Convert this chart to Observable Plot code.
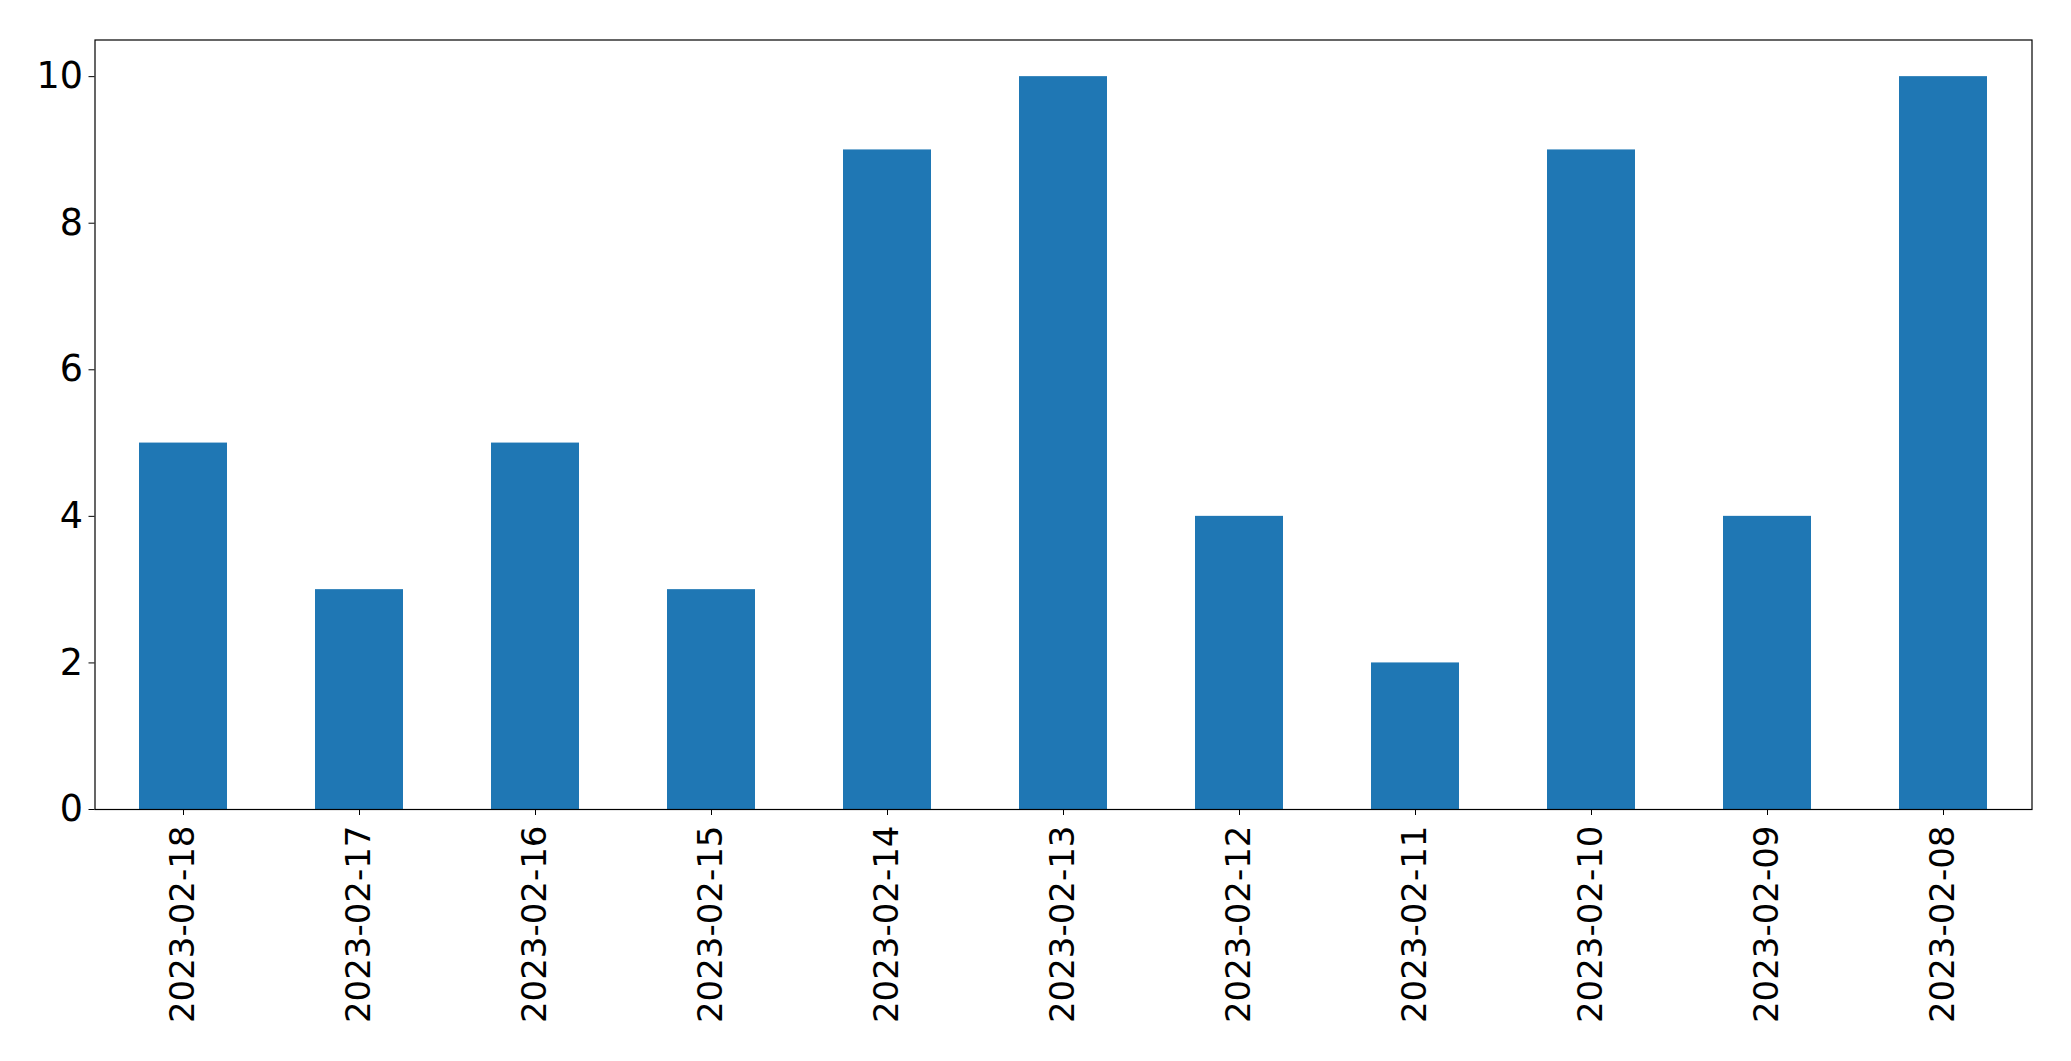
<!DOCTYPE html>
<html>
<head>
<meta charset="utf-8">
<script src="https://cdn.jsdelivr.net/npm/d3@7"></script>
<script src="https://cdn.jsdelivr.net/npm/@observablehq/plot@0.6"></script>
<style>
  html, body { margin: 0; padding: 0; background: #fff; overflow: hidden; }
  #chart svg { display: block; }
</style>
</head>
<body>
<div id="chart"></div>
<script>
const dates = ["2023-02-18","2023-02-17","2023-02-16","2023-02-15","2023-02-14","2023-02-13","2023-02-12","2023-02-11","2023-02-10","2023-02-09","2023-02-08"];
const counts = [5, 3, 5, 3, 9, 10, 4, 2, 9, 4, 10];
const yTicks = [0, 2, 4, 6, 8, 10];

const data = dates.map((d, i) => ({date: d, count: counts[i]}));

const chart = Plot.plot({
  width: 2071,
  height: 1061,
  marginLeft: 94.5,
  marginRight: 39.5,
  marginTop: 39.5,
  marginBottom: 252,
  style: {fontFamily: "'DejaVu Sans', sans-serif", fontSize: "34px", color: "black", background: "white"},
  x: {domain: dates, paddingInner: 0.5, paddingOuter: 0.25, label: null},
  y: {domain: [0, 10.5], label: null},
  marks: [
    Plot.barY(data, {x: "date", y: "count", fill: "#1f77b4"}),
    Plot.axisY({ticks: yTicks, tickSize: 6, tickPadding: 6, fontSize: 36.5, label: null, stroke: "black", fill: "black"}),
    Plot.axisX({tickSize: 6, tickPadding: 10, tickRotate: -90, fontSize: 34, label: null, stroke: "black", fill: "black"}),
    Plot.frame({stroke: "black", strokeWidth: 1.2})
  ]
});
document.getElementById("chart").appendChild(chart);
</script>
</body>
</html>
